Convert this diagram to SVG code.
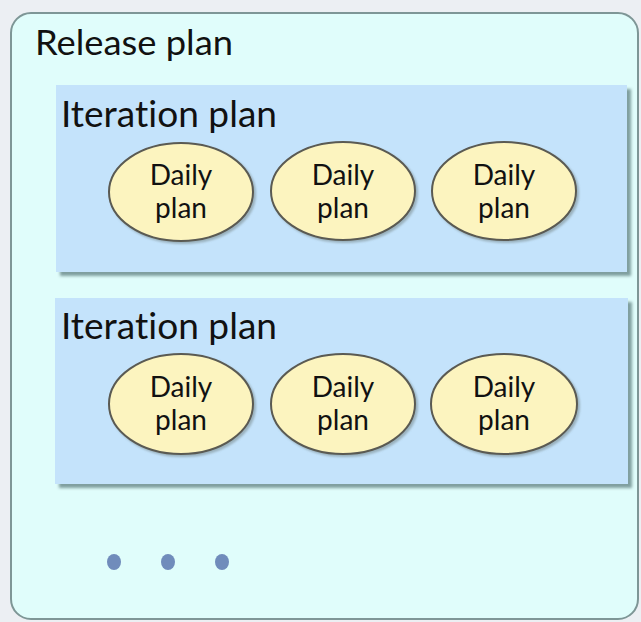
<svg xmlns="http://www.w3.org/2000/svg" width="641" height="622" viewBox="0 0 641 622">
  <defs>
    <filter id="shadow" x="-5%" y="-5%" width="115%" height="120%">
      <feGaussianBlur in="SourceAlpha" stdDeviation="1.5"/>
      <feOffset dx="4" dy="4" result="b"/>
      <feFlood flood-color="#5f7f7f" flood-opacity="0.75"/>
      <feComposite in2="b" operator="in"/>
      <feMerge><feMergeNode/><feMergeNode in="SourceGraphic"/></feMerge>
    </filter>
    <filter id="eshadow" x="-10%" y="-10%" width="125%" height="125%">
      <feGaussianBlur in="SourceAlpha" stdDeviation="1"/>
      <feOffset dx="1.5" dy="1.5" result="b"/>
      <feFlood flood-color="#6f7f7f" flood-opacity="0.5"/>
      <feComposite in2="b" operator="in"/>
      <feMerge><feMergeNode/><feMergeNode in="SourceGraphic"/></feMerge>
    </filter>
  </defs>
  <style>
    text { font-family: Lato, "Open Sans", sans-serif; fill: #111; font-variant-ligatures: none; }
    .outer { fill: #e0fdfb; stroke: #7e9696; stroke-width: 2; }
    .iter { fill: #c4e3fb; }
    .daily { fill: #fcf4bf; stroke: #5a5a52; stroke-width: 2; }
    .title { font-size: 35px; }
    .ititle { font-size: 36px; }
    .dtext { font-size: 28px; text-anchor: middle; }
    .dot { fill: #708cbb; }
  </style>
  <rect x="0" y="0" width="641" height="622" fill="#eceff3"/>
  <g id="release-plan">
    <rect class="outer" x="11" y="13" width="627" height="606" rx="20" ry="20"/>
    <text class="title" x="35" y="55" textLength="198" lengthAdjust="spacingAndGlyphs">Release plan</text>
  </g>
  <g id="iteration-plan-1">
    <rect class="iter" x="56" y="85" width="571" height="187" filter="url(#shadow)"/>
    <text class="ititle" x="61" y="127" textLength="216" lengthAdjust="spacingAndGlyphs">Iteration plan</text>
  </g>
  <g id="daily-1-1">
    <ellipse class="daily" cx="181" cy="192" rx="72" ry="49" filter="url(#eshadow)"/>
    <text class="dtext" x="181" y="185">Daily</text>
    <text class="dtext" x="181" y="218">plan</text>
  </g>
  <g id="daily-1-2">
    <ellipse class="daily" cx="343" cy="191" rx="72" ry="49" filter="url(#eshadow)"/>
    <text class="dtext" x="343" y="185">Daily</text>
    <text class="dtext" x="343" y="218">plan</text>
  </g>
  <g id="daily-1-3">
    <ellipse class="daily" cx="504" cy="191" rx="72" ry="49" filter="url(#eshadow)"/>
    <text class="dtext" x="504" y="185">Daily</text>
    <text class="dtext" x="504" y="218">plan</text>
  </g>
  <g id="iteration-plan-2">
    <rect class="iter" x="55" y="298" width="573" height="186" filter="url(#shadow)"/>
    <text class="ititle" x="61" y="339" textLength="216" lengthAdjust="spacingAndGlyphs">Iteration plan</text>
  </g>
  <g id="daily-2-1">
    <ellipse class="daily" cx="181" cy="404" rx="72" ry="50" filter="url(#eshadow)"/>
    <text class="dtext" x="181" y="397">Daily</text>
    <text class="dtext" x="181" y="430">plan</text>
  </g>
  <g id="daily-2-2">
    <ellipse class="daily" cx="343" cy="404" rx="72" ry="50" filter="url(#eshadow)"/>
    <text class="dtext" x="343" y="397">Daily</text>
    <text class="dtext" x="343" y="430">plan</text>
  </g>
  <g id="daily-2-3">
    <ellipse class="daily" cx="504" cy="404" rx="73" ry="50" filter="url(#eshadow)"/>
    <text class="dtext" x="504" y="397">Daily</text>
    <text class="dtext" x="504" y="430">plan</text>
  </g>
  <g id="ellipsis">
    <ellipse class="dot" cx="114" cy="562" rx="7" ry="8"/>
    <ellipse class="dot" cx="168" cy="562" rx="7" ry="8"/>
    <ellipse class="dot" cx="222" cy="562" rx="7" ry="8"/>
  </g>
  <g id="connectors"></g>
</svg>
